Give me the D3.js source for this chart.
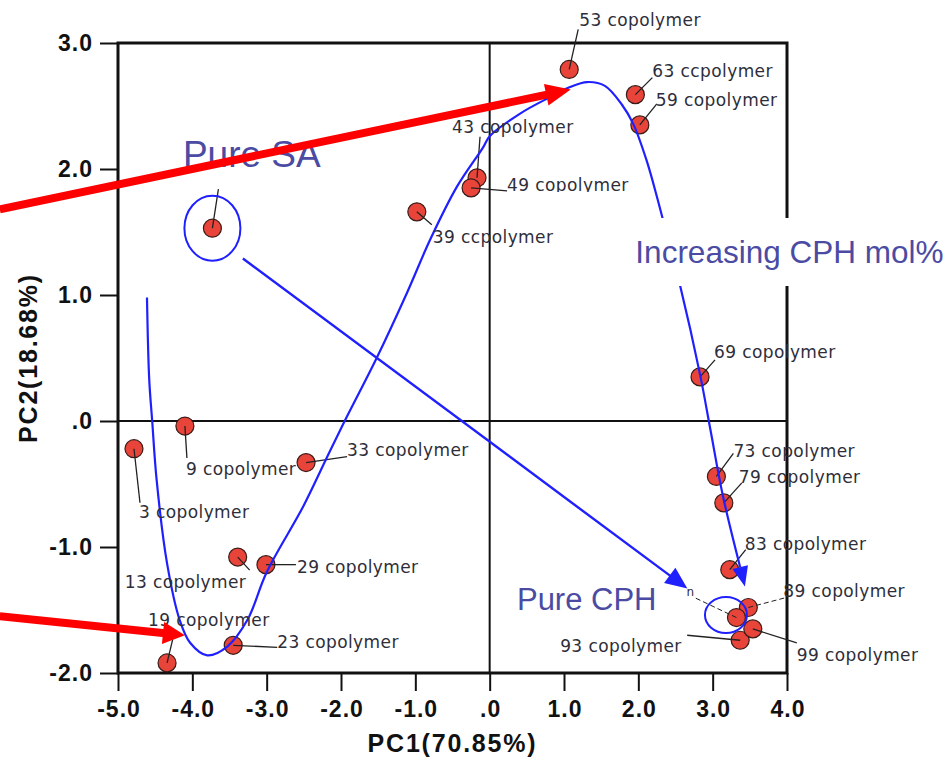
<!DOCTYPE html>
<html>
<head>
<meta charset="utf-8">
<script src="https://cdn.jsdelivr.net/npm/d3@7"></script>
<style>
  html, body { margin: 0; padding: 0; background: #ffffff; }
  svg { display: block; }
</style>
</head>
<body>
<svg id="chart" width="950" height="758"></svg>
<script>
// PCA score plot of CPH:SA copolymers (number = CPH mol%)

const sampleLabels = [
  "", "3 copolymer", "9 copolymer", "13 copolymer", "19 copolymer", "23 copolymer",
  "29 copolymer", "33 copolymer", "39 ccpolymer", "43 copolymer", "49 copolymer",
  "53 copolymer", "59 copolymer", "63 ccpolymer", "69 copolymer", "73 copolymer",
  "79 copolymer", "83 copolymer", "89 copolymer", "93 copolymer", "99 copolymer", ""
];
const pc1Scores = [
  -3.73, -4.785, -4.10, -3.39, -4.34, -3.45,
  -3.01, -2.47, -0.98, -0.17, -0.25,
  1.07, 2.02, 1.96, 2.83, 3.05,
  3.15, 3.23, 3.48, 3.37, 3.54, 3.32
];
const pc2Scores = [
  1.53, -0.22, -0.04, -1.08, -1.92, -1.78,
  -1.14, -0.33, 1.66, 1.93, 1.85,
  2.79, 2.35, 2.59, 0.35, -0.44,
  -0.65, -1.18, -1.48, -1.74, -1.65, -1.56
];

const xTickValues = [-5, -4, -3, -2, -1, 0, 1, 2, 3, 4];
const yTickValues = [-2, -1, 0, 1, 2, 3];
const xAxisTitle = "PC1(70.85%)";
const yAxisTitle = "PC2(18.68%)";

// Composition trend drawn through the scores (PC1, PC2)
const trendPC1 = [-4.61, -4.58, -4.54, -4.48, -4.34, -4.17, -4.03, -3.80, -3.53, -3.26,
  -3.00, -2.51, -2.19, -1.95, -1.52, -1.11, -0.80, -0.44, -0.09, 0.00, 0.41, 0.81,
  1.08, 1.31, 1.55, 1.78, 1.93, 2.11, 2.25, 2.40, 2.56, 2.83, 2.97, 3.14, 3.37];
const trendPC2 = [0.98, 0.33, 0.00, -0.47, -1.13, -1.58, -1.76, -1.86, -1.79, -1.58,
  -1.20, -0.68, -0.29, 0.00, 0.50, 1.02, 1.44, 1.86, 2.17, 2.26, 2.44, 2.57,
  2.65, 2.69, 2.66, 2.51, 2.36, 2.07, 1.78, 1.44, 1.08, 0.37, -0.07, -0.60, -1.16];

// Pure SA -> pure CPH arrow and the two pointer arrows (PC1, PC2 of tail and tip)
const homopolymerArrow = { tail: [-3.32, 1.29], tip: [2.66, -1.33] };
const pointerArrows = [
  { tail: [-6.59, 1.68], tip: [1.09, 2.63] },
  { tail: [-6.59, -1.55], tip: [-4.10, -1.70] }
];

const annotationText = {
  increasing: { text: "Increasing CPH mol%", at: [1.96, 1.254] }
};

// ---- layout ------------------------------------------------------------
// label offsets in px relative to each point: [labelDx, labelDy, leaderDx, leaderDy, dashed]
const labelLayout = [
  [0, 0, 6, -39, 0],
  [5, 69, 6, 54, 0],
  [1, 49, 2, 32, 0],
  [-113, 31, 12, 13, 0],
  [-19, -37, 6, -25, 0],
  [44, 3, 44, 2, 0],
  [31, 8, 30, 0, 0],
  [41, -7, 41, -6, 0],
  [16, 31, 15, 13, 0],
  [-25, -45, 3, -41, 0],
  [36, 3, 36, 3, 0],
  [10, -43, 9, -40, 0],
  [16, -19, 17, -21, 0],
  [17, -18, 17, -17, 0],
  [14, -19, 15, -17, 0],
  [17, -19, 17, -23, 0],
  [15, -20, 18, -20, 0],
  [15, -20, 16, -20, 0],
  [35, -10, 38, -10, 1],
  [-180, 12, -53, -5, 0],
  [44, 32, 44, 14, 0],
  [0, 0, -42, -20, 1]
];

const W = 950, H = 758;
const plot = { left: 118, right: 787, top: 43, bottom: 673 };

const svg = d3.select("#chart");
const x = d3.scaleLinear().domain([-5, 4]).range([plot.left, plot.right]);
const y = d3.scaleLinear().domain([-2, 3]).range([plot.bottom, plot.top]);

const fmt = d => d === 0 ? ".0" : (d < 0 ? "-" : "") + Math.abs(d).toFixed(1);

const tickFont = g => g.selectAll("text")
  .attr("fill", "#111")
  .style("font-family", "'Liberation Sans', Arial, sans-serif")
  .style("font-weight", "bold")
  .style("font-size", "23px")
  .style("letter-spacing", "1px");

// axes
svg.append("g")
  .attr("transform", `translate(0,${plot.bottom})`)
  .call(d3.axisBottom(x).tickValues(xTickValues).tickFormat(fmt).tickSize(18).tickPadding(10).tickSizeOuter(0))
  .call(g => g.select(".domain").remove())
  .call(g => g.selectAll(".tick line").attr("stroke", "#111").attr("stroke-width", 2))
  .call(tickFont)
  .call(g => g.selectAll("text").attr("dx", "0.5px"));

svg.append("g")
  .attr("transform", `translate(${plot.left},0)`)
  .call(d3.axisLeft(y).tickValues(yTickValues).tickFormat(fmt).tickSize(18).tickPadding(7).tickSizeOuter(0))
  .call(g => g.select(".domain").remove())
  .call(g => g.selectAll(".tick line").attr("stroke", "#111").attr("stroke-width", 2))
  .call(tickFont);

// zero lines
svg.append("line")
  .attr("x1", x(0)).attr("x2", x(0)).attr("y1", plot.top).attr("y2", plot.bottom)
  .attr("stroke", "#111").attr("stroke-width", 2);
svg.append("line")
  .attr("x1", plot.left).attr("x2", plot.right).attr("y1", y(0)).attr("y2", y(0))
  .attr("stroke", "#111").attr("stroke-width", 2);

// frame
svg.append("rect")
  .attr("x", plot.left).attr("y", plot.top)
  .attr("width", plot.right - plot.left).attr("height", plot.bottom - plot.top)
  .attr("fill", "none").attr("stroke", "#111").attr("stroke-width", 3);

// axis titles
svg.append("text")
  .attr("x", (plot.left + plot.right) / 2).attr("y", 752)
  .attr("text-anchor", "middle")
  .style("font-family", "'Liberation Sans', Arial, sans-serif")
  .style("font-weight", "bold").style("font-size", "25px").style("letter-spacing", "1.8px")
  .attr("fill", "#111")
  .text(xAxisTitle);
svg.append("text")
  .attr("transform", `translate(37,${(plot.top + plot.bottom) / 2}) rotate(-90)`)
  .attr("text-anchor", "middle")
  .style("font-family", "'Liberation Sans', Arial, sans-serif")
  .style("font-weight", "bold").style("font-size", "25px").style("letter-spacing", "1.8px")
  .attr("fill", "#111")
  .text(yAxisTitle);

const points = pc1Scores.map((v, i) => ({
  label: sampleLabels[i], px: x(v), py: y(pc2Scores[i]), lay: labelLayout[i]
}));

const BLUE = "#2020ff";
const RED = "#ff0000";

function drawArrow(g, p0, p1, len, halfW, color, width) {
  const dx = p1[0] - p0[0], dy = p1[1] - p0[1];
  const L = Math.hypot(dx, dy);
  const ux = dx / L, uy = dy / L, nx = -uy, ny = ux;
  const bx = p1[0] - ux * len, by = p1[1] - uy * len;
  if (width > 0) {
    g.append("line")
      .attr("x1", p0[0]).attr("y1", p0[1])
      .attr("x2", bx + ux * 2).attr("y2", by + uy * 2)
      .attr("stroke", color).attr("stroke-width", width);
  }
  g.append("path")
    .attr("d", `M${p1[0]},${p1[1]}L${bx + nx * halfW},${by + ny * halfW}L${bx - nx * halfW},${by - ny * halfW}Z`)
    .attr("fill", color);
}

// points
svg.append("g").selectAll("circle")
  .data(points).join("circle")
  .attr("cx", d => d.px).attr("cy", d => d.py).attr("r", 9)
  .attr("fill", "#e8443a").attr("stroke", "#3a1c18").attr("stroke-width", 1.2);

// leader lines
svg.append("g").selectAll("line")
  .data(points).join("line")
  .attr("x1", d => d.px).attr("y1", d => d.py)
  .attr("x2", d => d.px + d.lay[2]).attr("y2", d => d.py + d.lay[3])
  .attr("stroke", "#222").attr("stroke-width", d => d.lay[4] ? 1 : 1.3)
  .attr("stroke-dasharray", d => d.lay[4] ? "5,3" : null);

// trend curve with arrow head
const trendPts = trendPC1.map((v, i) => [x(v), y(trendPC2[i])]);
svg.append("path")
  .attr("d", d3.line().curve(d3.curveCatmullRom.alpha(0.5))(trendPts))
  .attr("fill", "none").attr("stroke", BLUE).attr("stroke-width", 2.2);
{
  const a = trendPts[trendPts.length - 2], b = trendPts[trendPts.length - 1];
  const L = Math.hypot(b[0] - a[0], b[1] - a[1]);
  const tip = [b[0] + (b[0] - a[0]) / L * 20, b[1] + (b[1] - a[1]) / L * 20];
  drawArrow(svg.append("g"), b, tip, 20, 8, BLUE, 0);
}

// pure SA -> pure CPH arrow
drawArrow(svg.append("g"),
  [x(homopolymerArrow.tail[0]), y(homopolymerArrow.tail[1])],
  [x(homopolymerArrow.tip[0]), y(homopolymerArrow.tip[1])], 22, 9.5, BLUE, 2.4);

// rings round the homopolymers
const sa = points[0], cph = points[points.length - 1];
svg.append("ellipse").attr("cx", sa.px).attr("cy", sa.py).attr("rx", 28).attr("ry", 32.5)
  .attr("fill", "none").attr("stroke", BLUE).attr("stroke-width", 2);
svg.append("ellipse").attr("cx", cph.px - 10.5).attr("cy", cph.py - 2.6).attr("rx", 21).attr("ry", 18)
  .attr("fill", "none").attr("stroke", BLUE).attr("stroke-width", 2);

// point labels
const defs = svg.append("defs");
const labelG = svg.append("g")
  .style("font-family", "'DejaVu Sans', Verdana, sans-serif")
  .style("font-size", "17px").style("letter-spacing", "0.4px");
points.forEach((d, i) => {
  if (!d.label) return;
  const t = labelG.append("text")
    .attr("x", d.px + d.lay[0]).attr("y", d.py + d.lay[1])
    .attr("fill", "#2e2e3a").text(d.label);
  if (d.label.startsWith("49")) {
    // lower part of this label is covered
    defs.append("clipPath").attr("id", "clip49")
      .append("rect").attr("x", 0).attr("y", 0).attr("width", W).attr("height", d.py + d.lay[1] + 1);
    t.attr("clip-path", "url(#clip49)");
  }
});
labelG.append("text")
  .attr("x", cph.px - 50).attr("y", cph.py - 22)
  .style("font-size", "12px").attr("fill", "#2e2e3a").text("n");

// annotation text
const ANN = "#4b4ba3";
const inc = svg.append("g");
const incText = inc.append("text")
  .attr("x", x(annotationText.increasing.at[0])).attr("y", y(annotationText.increasing.at[1]))
  .style("font-family", "'Liberation Sans', Arial, sans-serif").style("font-size", "31.5px")
  .attr("fill", ANN).text(annotationText.increasing.text);
const bb = incText.node().getBBox();
inc.insert("rect", "text")
  .attr("x", bb.x - 7).attr("y", bb.y - 16)
  .attr("width", W - bb.x + 7).attr("height", bb.height + 32)
  .attr("fill", "#ffffff");

svg.append("text")
  .attr("x", sa.px - 29.5).attr("y", sa.py - 61)
  .style("font-family", "'Liberation Sans', Arial, sans-serif").style("font-size", "37px")
  .attr("fill", ANN).text("Pure SA");
svg.append("text")
  .attr("x", cph.px - 219.5).attr("y", cph.py - 7.6)
  .style("font-family", "'Liberation Sans', Arial, sans-serif").style("font-size", "31px")
  .attr("fill", ANN).text("Pure CPH");

// red pointer arrows
pointerArrows.forEach((a, i) => {
  drawArrow(svg.append("g"),
    [x(a.tail[0]), y(a.tail[1])], [x(a.tip[0]), y(a.tip[1])],
    i === 0 ? 25 : 22, 11, RED, 8);
});
</script>
</body>
</html>
